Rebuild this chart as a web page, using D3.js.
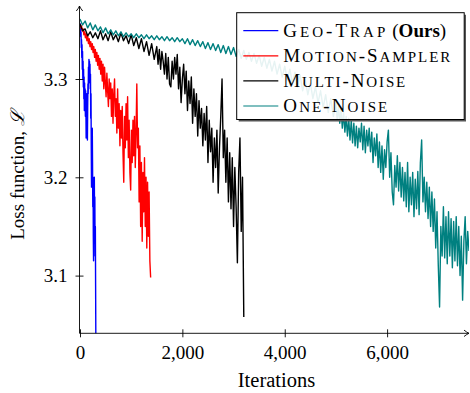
<!DOCTYPE html>
<html>
<head>
<meta charset="utf-8">
<script src="https://cdnjs.cloudflare.com/ajax/libs/d3/7.8.5/d3.min.js"></script>
<style>
  html, body { margin: 0; padding: 0; background: #fff; }
  svg { display: block; font-family: 'Liberation Serif', 'DejaVu Serif', serif; }
</style>
</head>
<body>
<div id="chart"></div>
<script>
// values (iterations / loss)
const geoTrapIter = [0, 5, 10, 15, 20, 25, 30, 35, 40, 45, 50, 55, 60, 65, 70, 75, 80, 85, 90, 95, 100, 105, 110, 115, 120, 125, 130, 135, 140, 145, 150, 155, 160, 165, 170, 175, 180, 185, 190, 195, 200, 205, 210, 215, 220, 225, 230, 235, 240, 245, 250, 255, 260, 265, 270, 275, 280, 285, 290, 295, 300, 305, 310];
const geoTrapLoss = [3.357, 3.352, 3.355, 3.343, 3.348, 3.332, 3.340, 3.322, 3.335, 3.310, 3.328, 3.300, 3.318, 3.292, 3.310, 3.280, 3.302, 3.268, 3.296, 3.275, 3.290, 3.262, 3.288, 3.272, 3.240, 3.280, 3.262, 3.285, 3.250, 3.238, 3.270, 3.295, 3.285, 3.312, 3.300, 3.320, 3.305, 3.318, 3.296, 3.315, 3.290, 3.305, 3.260, 3.285, 3.230, 3.190, 3.245, 3.205, 3.250, 3.215, 3.170, 3.200, 3.140, 3.115, 3.190, 3.160, 3.200, 3.150, 3.180, 3.120, 3.150, 3.090, 3.030];

const motionIter = [0, 15, 30, 45, 60, 75, 90, 105, 120, 135, 150, 165, 180, 195, 210, 225, 240, 255, 270, 285, 300, 315, 330, 345, 360, 375, 390, 405, 420, 435, 450, 465, 480, 495, 510, 525, 540, 555, 570, 585, 600, 615, 630, 645, 660, 675, 690, 705, 720, 735, 750, 765, 780, 795, 810, 825, 840, 855, 870, 885, 900, 915, 930, 945, 960, 975, 990, 1005, 1020, 1035, 1050, 1065, 1080, 1095, 1110, 1125, 1140, 1155, 1170, 1185, 1200, 1215, 1230, 1245, 1260, 1275, 1290, 1305, 1320, 1335, 1350, 1365, 1380];
const motionLoss = [3.356, 3.352, 3.354, 3.349, 3.351, 3.345, 3.348, 3.342, 3.346, 3.339, 3.344, 3.336, 3.341, 3.333, 3.338, 3.330, 3.336, 3.327, 3.333, 3.322, 3.330, 3.318, 3.327, 3.314, 3.324, 3.310, 3.321, 3.305, 3.318, 3.298, 3.315, 3.290, 3.312, 3.296, 3.282, 3.306, 3.288, 3.272, 3.300, 3.280, 3.296, 3.262, 3.290, 3.255, 3.285, 3.300, 3.262, 3.280, 3.245, 3.290, 3.250, 3.275, 3.232, 3.268, 3.240, 3.272, 3.225, 3.195, 3.262, 3.230, 3.275, 3.238, 3.282, 3.220, 3.258, 3.205, 3.187, 3.248, 3.215, 3.258, 3.222, 3.262, 3.210, 3.245, 3.295, 3.230, 3.250, 3.175, 3.232, 3.150, 3.215, 3.135, 3.205, 3.165, 3.220, 3.150, 3.200, 3.128, 3.195, 3.140, 3.185, 3.115, 3.098];

const multiIter = [0, 50, 100, 150, 200, 250, 300, 350, 400, 450, 500, 550, 600, 650, 700, 750, 800, 850, 900, 950, 1000, 1050, 1100, 1150, 1200, 1250, 1300, 1350, 1400, 1450, 1500, 1525, 1550, 1575, 1600, 1625, 1650, 1675, 1700, 1725, 1750, 1775, 1800, 1825, 1850, 1875, 1900, 1925, 1950, 1975, 2000, 2025, 2050, 2075, 2100, 2125, 2150, 2175, 2200, 2225, 2250, 2275, 2300, 2325, 2350, 2375, 2400, 2425, 2450, 2475, 2500, 2525, 2550, 2575, 2600, 2625, 2650, 2675, 2700, 2725, 2750, 2775, 2800, 2825, 2850, 2875, 2900, 2925, 2950, 2975, 3000, 3025, 3050, 3075, 3100, 3125, 3150, 3175, 3200];
const multiLoss = [3.356, 3.349, 3.351, 3.344, 3.348, 3.342, 3.347, 3.341, 3.349, 3.340, 3.346, 3.339, 3.348, 3.340, 3.345, 3.338, 3.347, 3.339, 3.344, 3.336, 3.345, 3.334, 3.342, 3.331, 3.341, 3.328, 3.338, 3.324, 3.336, 3.320, 3.333, 3.315, 3.330, 3.310, 3.328, 3.318, 3.305, 3.326, 3.300, 3.322, 3.295, 3.292, 3.318, 3.300, 3.322, 3.305, 3.325, 3.290, 3.312, 3.276, 3.300, 3.315, 3.285, 3.308, 3.268, 3.298, 3.275, 3.302, 3.255, 3.290, 3.262, 3.285, 3.242, 3.278, 3.250, 3.270, 3.232, 3.265, 3.238, 3.272, 3.215, 3.258, 3.226, 3.250, 3.195, 3.240, 3.210, 3.248, 3.184, 3.230, 3.262, 3.300, 3.220, 3.248, 3.195, 3.240, 3.175, 3.225, 3.168, 3.220, 3.150, 3.210, 3.170, 3.113, 3.205, 3.240, 3.145, 3.200, 3.058];

const oneIter = [0, 50, 100, 150, 200, 250, 300, 350, 400, 450, 500, 550, 600, 650, 700, 750, 800, 850, 900, 950, 1000, 1050, 1100, 1150, 1200, 1250, 1300, 1350, 1400, 1450, 1500, 1550, 1600, 1650, 1700, 1750, 1800, 1850, 1900, 1950, 2000, 2050, 2100, 2150, 2200, 2250, 2300, 2350, 2400, 2450, 2500, 2550, 2600, 2650, 2700, 2750, 2800, 2850, 2900, 2950, 3000, 3050, 3100, 3150, 3200, 3250, 3300, 3350, 3400, 3450, 3500, 3550, 3600, 3650, 3700, 3750, 3800, 3850, 3900, 3950, 4000, 4050, 4100, 4150, 4200, 4250, 4300, 4350, 4400, 4450, 4500, 4550, 4600, 4650, 4700, 4750, 4800, 4850, 4900, 4950, 5000,
    5025, 5050, 5075, 5100, 5125, 5150, 5175, 5200, 5225, 5250, 5275, 5300, 5325, 5350, 5375, 5400, 5425, 5450, 5475, 5500, 5525, 5550, 5575, 5600, 5625, 5650, 5675, 5700, 5725, 5750, 5775, 5800, 5825, 5850, 5875, 5900, 5925, 5950, 5975, 6000, 6025, 6050, 6075, 6100, 6125, 6150, 6175, 6200, 6225, 6250, 6275, 6300, 6325, 6350, 6375, 6400, 6425, 6450, 6475, 6500, 6525, 6550, 6575, 6600, 6625, 6650, 6675, 6700, 6725, 6750, 6775, 6800, 6825, 6850, 6875, 6900, 6925, 6950, 6975, 7000, 7025, 7050, 7075, 7100, 7125, 7150, 7175, 7200, 7225, 7250, 7275, 7300, 7325, 7350, 7375, 7400, 7425, 7450, 7475, 7500, 7525, 7550, 7575, 7600];
const oneLoss = [3.361, 3.355, 3.359, 3.352, 3.357, 3.350, 3.355, 3.349, 3.353, 3.347, 3.352, 3.346, 3.350, 3.345, 3.349, 3.344, 3.348, 3.343, 3.347, 3.343, 3.346, 3.342, 3.346, 3.342, 3.345, 3.341, 3.345, 3.341, 3.344, 3.340, 3.344, 3.340, 3.343, 3.339, 3.343, 3.339, 3.342, 3.338, 3.342, 3.338, 3.341, 3.336, 3.341, 3.335, 3.340, 3.334, 3.339, 3.333, 3.338, 3.331, 3.337, 3.330, 3.336, 3.329, 3.335, 3.327, 3.334, 3.326, 3.333, 3.325, 3.332, 3.323, 3.330, 3.321, 3.329, 3.320, 3.327, 3.318, 3.326, 3.316, 3.324, 3.313, 3.322, 3.311, 3.320, 3.308, 3.318, 3.305, 3.315, 3.302, 3.313, 3.299, 3.310, 3.296, 3.307, 3.292, 3.304, 3.288, 3.300, 3.284, 3.296, 3.280, 3.292, 3.276, 3.288, 3.271, 3.284, 3.266, 3.280, 3.262, 3.276,
    3.258, 3.272, 3.255, 3.270, 3.250, 3.266, 3.246, 3.262, 3.242, 3.260, 3.238, 3.258, 3.235, 3.255, 3.232, 3.252, 3.230, 3.250, 3.236, 3.255, 3.228, 3.252, 3.225, 3.248, 3.232, 3.250, 3.226, 3.246, 3.215, 3.240, 3.222, 3.244, 3.210, 3.236, 3.205, 3.232, 3.198, 3.228, 3.210, 3.236, 3.248, 3.200, 3.225, 3.185, 3.172, 3.212, 3.190, 3.222, 3.186, 3.215, 3.180, 3.210, 3.176, 3.205, 3.170, 3.215, 3.165, 3.200, 3.172, 3.205, 3.160, 3.198, 3.168, 3.206, 3.162, 3.215, 3.238, 3.175, 3.200, 3.165, 3.195, 3.158, 3.190, 3.150, 3.185, 3.145, 3.178, 3.128, 3.165, 3.110, 3.068, 3.150, 3.120, 3.170, 3.118, 3.160, 3.112, 3.165, 3.120, 3.158, 3.108, 3.155, 3.115, 3.160, 3.110, 3.150, 3.100, 3.140, 3.075, 3.135, 3.160, 3.112, 3.145, 3.125];

const seriesNames = ['Geo-Trap', 'Motion-Sampler', 'Multi-Noise', 'One-Noise'];
const xTicks = [0, 2000, 4000, 6000];
const yTicks = [3.1, 3.2, 3.3];

// styles
const colors = ['#0000ff', '#ff0000', '#000000', '#008080'];
const legendWidths = [102, 167, 122, 104];

const width = 470, height = 393;
const plot = {left: 80, right: 469, top: 10.2, bottom: 333.3};

const series = [
    {iter: geoTrapIter, loss: geoTrapLoss},
    {iter: motionIter, loss: motionLoss},
    {iter: multiIter, loss: multiLoss},
    {iter: oneIter, loss: oneLoss}
].map((s, i) => ({name: seriesNames[i], color: colors[i], points: s.iter.map((it, j) => [it, s.loss[j]])}));

const x = d3.scaleLinear().domain([0, 7600]).range([plot.left, plot.right]);
const y = d3.scaleLinear().domain([3.0413, 3.37]).range([plot.bottom, plot.top]);

const svg = d3.select('#chart').append('svg')
    .attr('width', width)
    .attr('height', height);

svg.append('defs').append('clipPath').attr('id', 'plotClip')
    .append('rect')
    .attr('x', plot.left)
    .attr('y', 0)
    .attr('width', plot.right - plot.left)
    .attr('height', plot.bottom);

// curves
const line = d3.line().x(d => x(d[0])).y(d => y(d[1]));
svg.append('g')
    .attr('clip-path', 'url(#plotClip)')
    .selectAll('path')
    .data(series)
    .enter().append('path')
    .attr('d', d => line(d.points))
    .attr('fill', 'none')
    .attr('stroke', d => d.color)
    .attr('stroke-width', 1.4)
    .attr('stroke-linejoin', 'round');

// axes (ticks straddle the axis line)
const xAxis = svg.append('g')
    .attr('transform', `translate(0,${plot.bottom})`)
    .call(d3.axisBottom(x).tickValues(xTicks).tickFormat(d3.format(',')).tickSize(4).tickPadding(8));
xAxis.select('.domain').remove();
xAxis.selectAll('.tick line').attr('y1', -4).attr('stroke-width', 0.9);
xAxis.selectAll('.tick text').attr('font-size', 19).attr('font-family', 'Liberation Serif').attr('fill', '#000');

const yAxis = svg.append('g')
    .attr('transform', `translate(${plot.left - 0.5},0)`)
    .call(d3.axisLeft(y).tickValues(yTicks).tickFormat(d3.format('.1f')).tickSize(4).tickPadding(8));
yAxis.select('.domain').remove();
yAxis.selectAll('.tick line').attr('x1', 4).attr('stroke-width', 0.9);
yAxis.selectAll('.tick text').attr('font-size', 19).attr('font-family', 'Liberation Serif').attr('fill', '#000').attr('dy', '0.33em');

// axis lines with arrow heads
const ax = plot.left - 0.5;
svg.append('path')
    .attr('d', `M${ax},${plot.bottom} H${plot.right}`)
    .attr('stroke', '#000').attr('stroke-width', 0.9);
svg.append('path')
    .attr('d', `M${ax},${plot.bottom} V6`)
    .attr('stroke', '#000').attr('stroke-width', 0.9);
svg.append('path')
    .attr('d', `M${ax - 3.2},11 Q${ax - 0.8},8 ${ax},6 Q${ax + 0.8},8 ${ax + 3.2},11`)
    .attr('fill', 'none').attr('stroke', '#000').attr('stroke-width', 0.9);
svg.append('path')
    .attr('d', `M${plot.right - 5},${plot.bottom - 3.2} Q${plot.right - 2},${plot.bottom - 0.8} ${plot.right},${plot.bottom} Q${plot.right - 2},${plot.bottom + 0.8} ${plot.right - 5},${plot.bottom + 3.2}`)
    .attr('fill', 'none').attr('stroke', '#000').attr('stroke-width', 0.9);

// axis labels
svg.append('text')
    .attr('x', 276.5)
    .attr('y', 387)
    .attr('text-anchor', 'middle')
    .attr('font-size', 20.5)
    .text('Iterations');

svg.append('text')
    .attr('transform', `translate(24,175) rotate(-90)`)
    .attr('text-anchor', 'middle')
    .attr('font-size', 19)
    .text('Loss function, ')
    .append('tspan')
    .attr('font-family', 'DejaVu Serif')
    .attr('font-style', 'italic')
    .text('ℒ');

// legend
const lg = {x: 236.7, y: 12.7, w: 227.5, h: 106.8};
const legend = svg.append('g');
legend.append('path')
    .attr('d', `M${lg.x + lg.w},${lg.y + 2} h1.8 v${lg.h} h${-lg.w + 0.2} v-1.8 h${lg.w - 2} Z`)
    .attr('fill', '#555');
legend.append('rect')
    .attr('x', lg.x).attr('y', lg.y)
    .attr('width', lg.w).attr('height', lg.h)
    .attr('fill', '#fff').attr('fill-opacity', 0.9)
    .attr('stroke', '#000').attr('stroke-width', 1);

// small caps by hand: capitals full size, lower case letters as smaller capitals
function smallCapsRuns(s) {
    const runs = [];
    for (const ch of s) {
        const small = ch !== ch.toUpperCase();
        const last = runs[runs.length - 1];
        if (last && last.small === small) last.text += ch.toUpperCase();
        else runs.push({small: small, text: ch.toUpperCase()});
    }
    return runs;
}

const rows = legend.selectAll('g.row')
    .data(series)
    .enter().append('g')
    .attr('class', 'row')
    .attr('transform', (d, i) => `translate(${lg.x},${30.7 + i * 25.1})`);
rows.append('line')
    .attr('x1', 6.6).attr('x2', 41.6)
    .attr('stroke', d => d.color)
    .attr('stroke-width', 1.2);
const labels = rows.append('text')
    .attr('x', 46.6)
    .attr('y', 6)
    .attr('font-size', 19)
    .attr('fill', '#000')
    .attr('textLength', (d, i) => legendWidths[i])
    .attr('lengthAdjust', 'spacing');
labels.selectAll('tspan')
    .data(d => smallCapsRuns(d.name))
    .enter().append('tspan')
    .attr('font-size', r => r.small ? 15 : 19)
    .text(r => r.text);
rows.filter((d, i) => i === 0)
    .append('text')
    .attr('x', 155.6)
    .attr('y', 6)
    .attr('font-size', 19)
    .attr('fill', '#000')
    .text('(')
    .call(t => t.append('tspan').attr('font-weight', 'bold').text('Ours'))
    .call(t => t.append('tspan').text(')'));
</script>
</body>
</html>
